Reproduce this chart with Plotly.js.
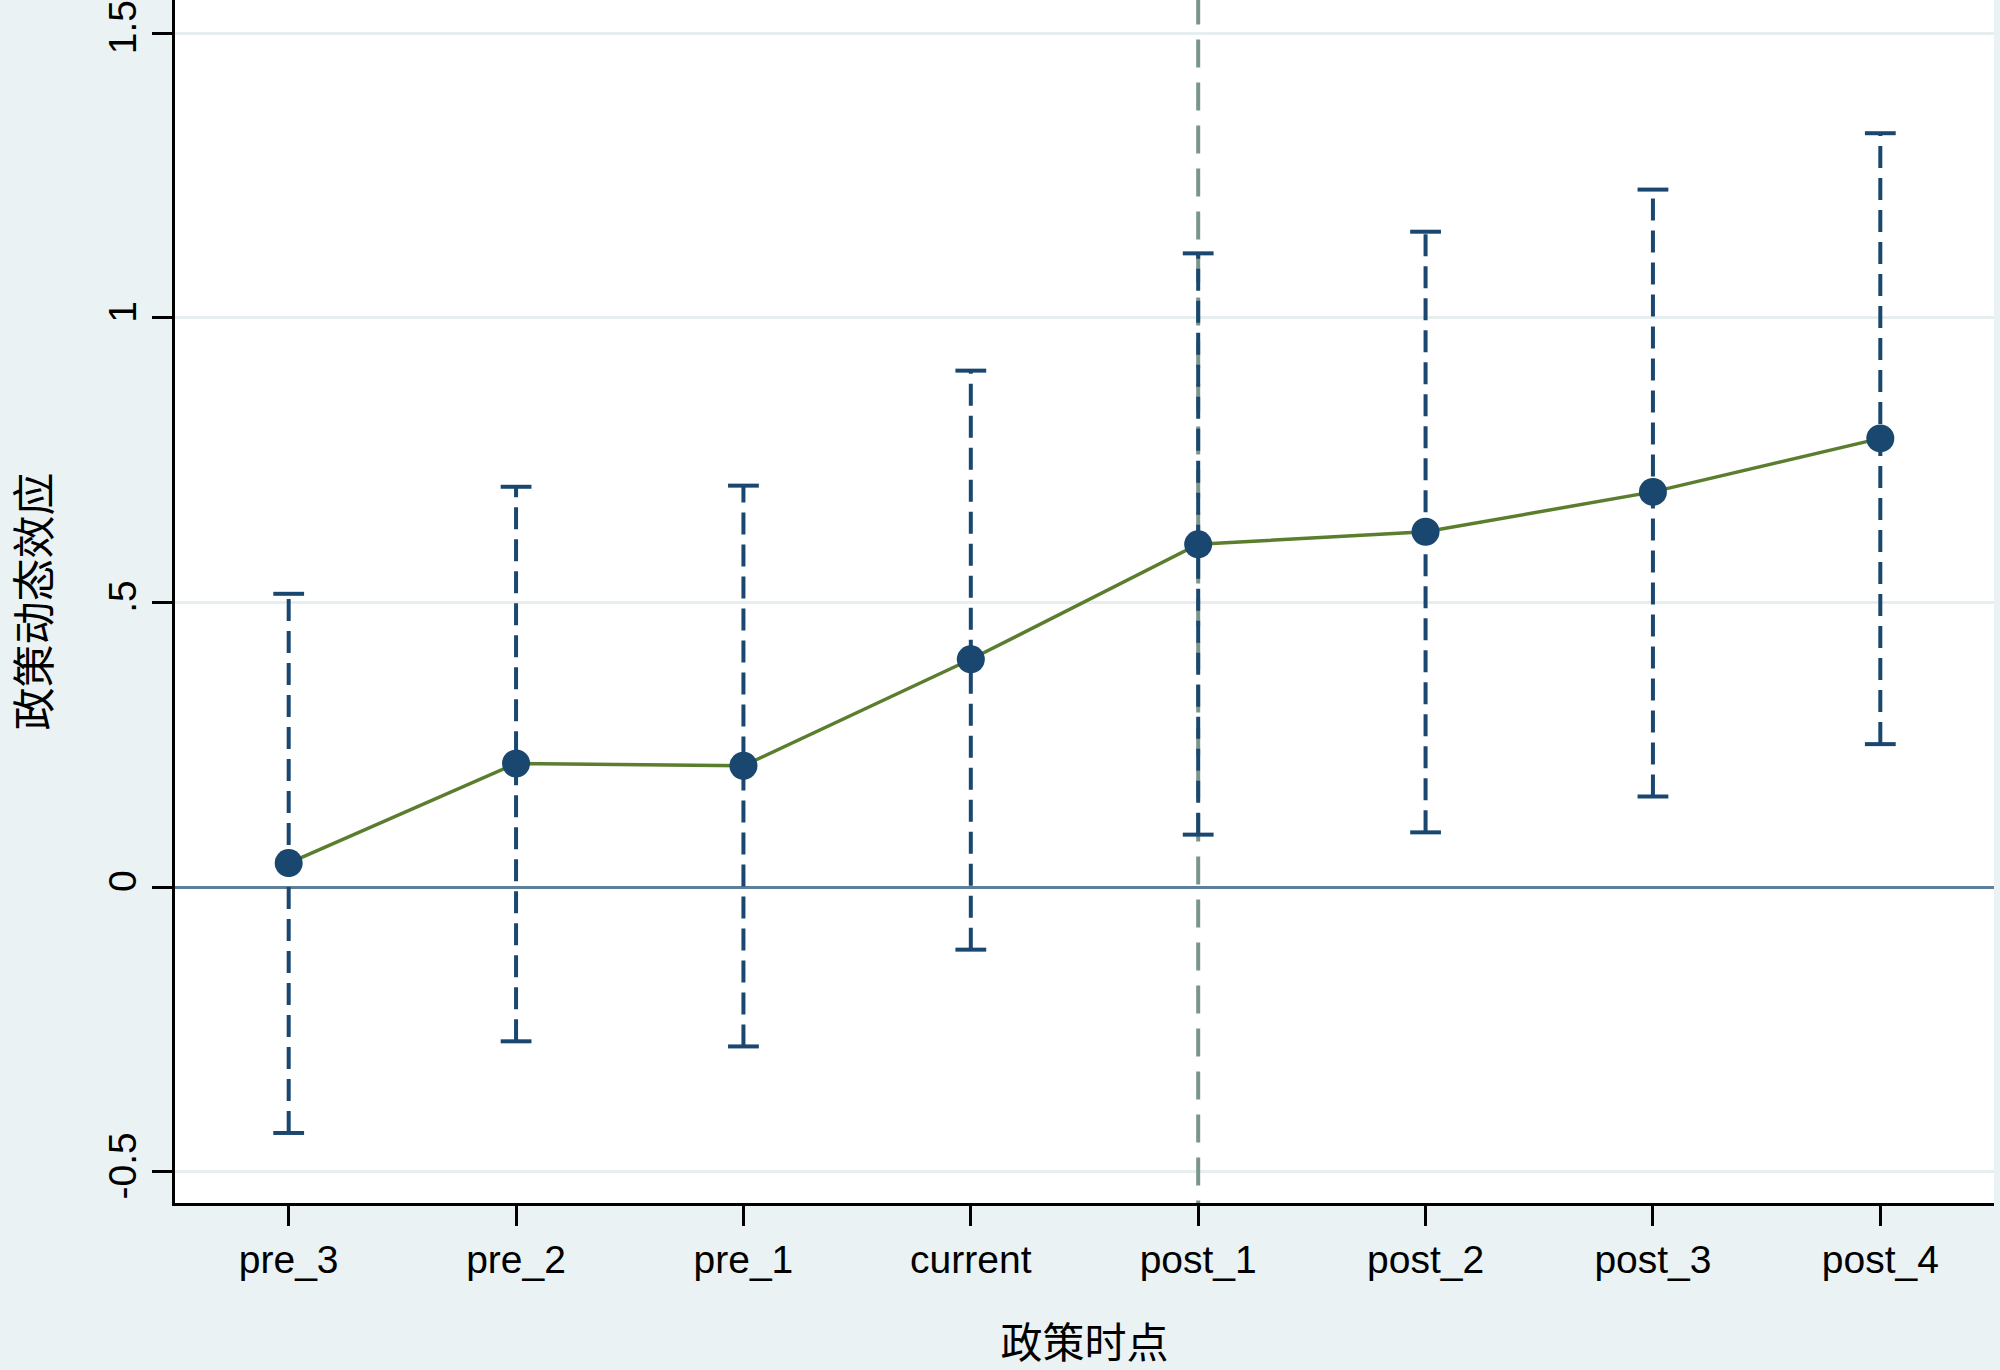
<!DOCTYPE html>
<html>
<head>
<meta charset="utf-8">
<script src="https://cdn.plot.ly/plotly-3.0.1.min.js"></script>
<style>html,body{margin:0;padding:0;background:#eaf2f3;}#chart{width:2000px;height:1370px;}</style>
</head>
<body>
<div id="chart"></div>
<script>
// Data
const categories = ["pre_3","pre_2","pre_1","current","post_1","post_2","post_3","post_4"];
const coef  = [0.042, 0.217, 0.213, 0.400, 0.602, 0.624, 0.694, 0.788];
const upper = [0.515, 0.703, 0.705, 0.907, 1.113, 1.151, 1.225, 1.324];
const lower = [-0.432, -0.271, -0.280, -0.110, 0.092, 0.096, 0.159, 0.251];
const yTickVals = [-0.5, 0, 0.5, 1, 1.5];
const yTickText = ["-0.5", "0", ".5", "1", "1.5"];
const policyLine = "post_1";

const navy = "#1a476f";
const green = "#5a7d2e";

// Confidence interval segments (dashed) with caps
const ciX = [], ciY = [];
categories.forEach((c, i) => { ciX.push(c, c, null); ciY.push(lower[i], upper[i], null); });
const capX = [], capY = [];
categories.forEach((c, i) => { capX.push(c, c); capY.push(lower[i], upper[i]); });

const traces = [
  { // policy timing vertical line
    x: [policyLine, policyLine], y: [-0.6, 1.6], mode: "lines", cliponaxis: true,
    line: {color: "#7a968c", width: 4, dash: "28px,15px"}, hoverinfo: "skip", showlegend: false
  },
  {
    x: ciX, y: ciY, mode: "lines", connectgaps: false,
    line: {color: navy, width: 4, dash: "22px,10px"}, showlegend: false
  },
  {
    x: capX, y: capY, mode: "markers",
    marker: {symbol: "line-ew", size: 22, color: navy, line: {color: navy, width: 4}}, showlegend: false
  },
  {
    x: categories, y: coef, mode: "lines",
    line: {color: green, width: 3.5}, showlegend: false
  },
  {
    x: categories, y: coef, mode: "markers",
    marker: {symbol: "circle", size: 28, color: navy}, showlegend: false
  }
];

const layout = {
  width: 2000, height: 1370,
  paper_bgcolor: "#eaf2f3", plot_bgcolor: "#ffffff",
  margin: {l: 175, r: 6, t: 0, b: 167},
  font: {family: "Liberation Sans, Arial, sans-serif", color: "#000", size: 39},
  xaxis: {
    type: "category", categoryorder: "array", categoryarray: categories,
    range: [-0.5, 7.5], showgrid: false, zeroline: false,
    showline: true, linecolor: "#000", linewidth: 3,
    ticks: "outside", ticklen: 20, tickwidth: 3, tickcolor: "#000",
    tickfont: {size: 39, family: "Liberation Sans, Arial, sans-serif"},
    ticklabelstandoff: 0,
    title: {text: "政策时点", font: {family: "Noto Sans CJK SC", size: 42}, standoff: 52}
  },
  yaxis: {
    range: [-0.555, 1.558], tickvals: yTickVals, ticktext: yTickText,
    tickangle: -90, showgrid: true, gridcolor: "#e6eef0", gridwidth: 3,
    zeroline: true, zerolinecolor: "#5e7f9a", zerolinewidth: 3,
    showline: true, linecolor: "#000", linewidth: 3,
    ticks: "outside", ticklen: 20, tickwidth: 3, tickcolor: "#000",
    tickfont: {size: 39, family: "Liberation Sans, Arial, sans-serif"},
    ticklabelstandoff: 0,
    title: {text: "政策动态效应", font: {family: "Noto Sans CJK SC", size: 43}, standoff: 46}
  }
};

Plotly.newPlot("chart", traces, layout, {displayModeBar: false, staticPlot: true});
</script>
</body>
</html>
